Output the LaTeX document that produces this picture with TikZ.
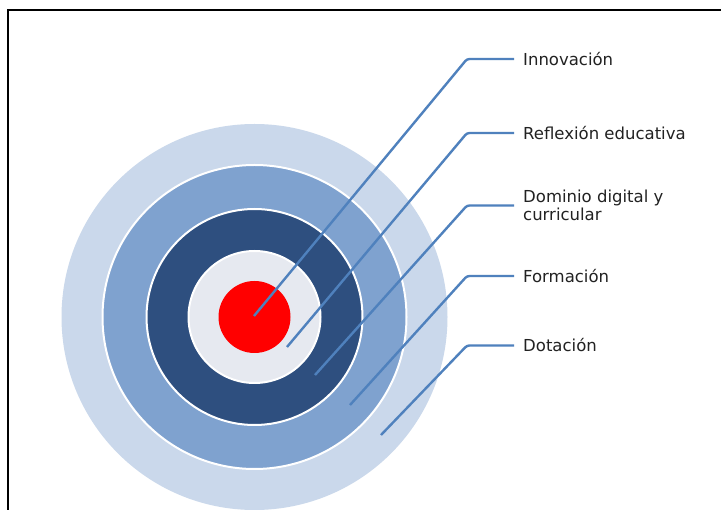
\documentclass[tikz,border=0pt]{standalone}
\usepackage{fontspec}
\setmainfont{DejaVu Sans}
\definecolor{ringouter}{HTML}{CAD8EB}
\definecolor{ringmid}{HTML}{7FA2CF}
\definecolor{ringdark}{HTML}{2E4F7F}
\definecolor{ringlight}{HTML}{E6E9F0}
\definecolor{leadblue}{HTML}{4F81BD}
\definecolor{txtgray}{HTML}{222222}
\tikzset{
  lbl/.style={anchor=west, inner sep=0pt, text=txtgray, font=\fontsize{16.5}{17.5}\selectfont, align=left},
  leader/.style={draw=leadblue, line width=2.4pt, rounded corners=2.5pt},
  ring/.style={draw=white, line width=2pt}
}
\begin{document}
\begin{tikzpicture}[x=1pt,y=-1pt]
    \useasboundingbox (0,0) rectangle (721,510);
    \fill[white] (0,0) rectangle (721,510);
    % frame
    \draw[line width=2pt] (7.5,510) -- (7.5,10.5) -- (721,10.5);
    % target
    \fill[ringouter] (254.5,317) circle (193);
    \filldraw[ring, fill=ringmid] (254.5,317) circle (152);
    \filldraw[ring, fill=ringdark] (254.5,317) circle (108);
    \filldraw[ring, fill=ringlight] (254.5,317) circle (66);
    \fill[red] (254.5,317) circle (36);
    % labels
    \node[lbl] (inn) at (523,59) {Innovación};
    \node[lbl] (ref) at (523,133) {Reflexión educativa};
    \node[lbl] (dom) at (523,205.5) {Dominio digital y\\curricular};
    \node[lbl] (for) at (523,276) {Formación};
    \node[lbl] (dot) at (523,345.5) {Dotación};
    % leaders
    \coordinate (inn-s) at (254,316);
    \coordinate (ref-s) at (287,347);
    \coordinate (dom-s) at (315,375);
    \coordinate (for-s) at (350,405);
    \coordinate (dot-s) at (381,435);
    \draw[leader] (inn-s) -- (467,59) -- ([xshift=-9pt]inn.west);
    \draw[leader] (ref-s) -- (467,133) -- ([xshift=-9pt]ref.west);
    \draw[leader] (dom-s) -- (467,205.5) -- ([xshift=-9pt]dom.west);
    \draw[leader] (for-s) -- (467,276) -- ([xshift=-9pt]for.west);
    \draw[leader] (dot-s) -- (467,345.5) -- ([xshift=-9pt]dot.west);
\end{tikzpicture}
\end{document}
